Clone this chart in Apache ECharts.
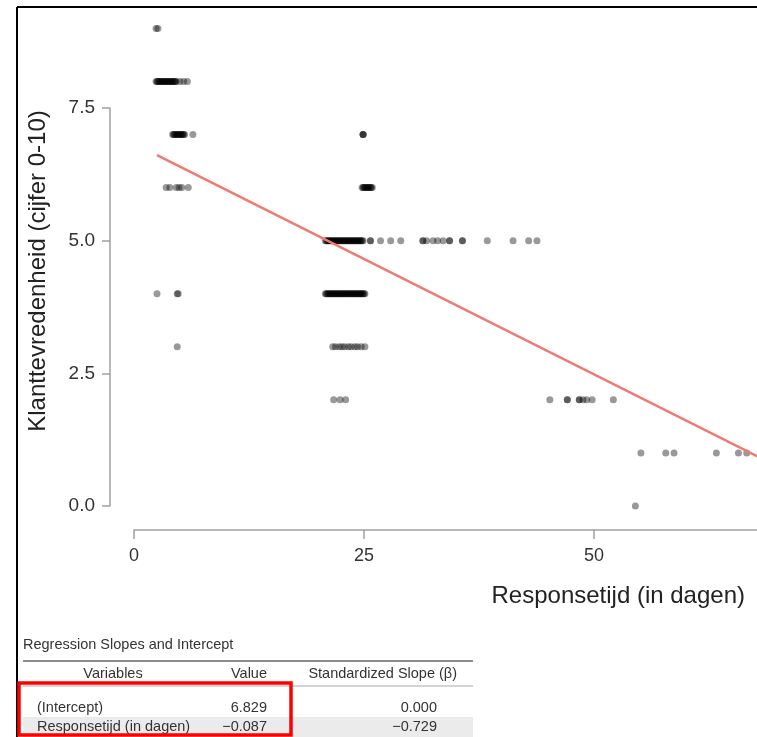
<!DOCTYPE html>
<html><head><meta charset="utf-8">
<script src="https://cdn.jsdelivr.net/npm/echarts@6/dist/echarts.min.js"></script>
<style>html,body{margin:0;padding:0;background:#fff}#c{width:757px;height:737px}</style>
</head><body><div id="c"></div><script>
// Response time (days) of each respondent, grouped by satisfaction score
const score9Days = [2.4, 2.6];
const score8Days = [2.4, 2.5, 2.6, 2.7, 2.8, 2.9, 3.0, 3.1, 3.2, 3.3, 3.4, 3.5, 3.6, 3.7, 3.8, 3.9, 4.0, 4.1, 4.2, 4.3, 4.4, 4.5, 4.6, 5.0, 5.4, 5.8];
const score7Days = [4.2, 4.3, 4.4, 4.5, 4.6, 4.7, 4.8, 4.9, 5.0, 5.1, 5.2, 5.3, 5.4, 5.5, 6.4, 24.9, 24.9, 24.9];
const score6Days = [3.5, 3.9, 4.6, 4.9, 5.2, 5.9, 24.8, 24.9, 25.0, 25.1, 25.2, 25.3, 25.4, 25.5, 25.6, 25.7, 25.8, 25.9];
const score5Days = [20.8, 20.9, 21.0, 21.1, 21.2, 21.3, 21.4, 21.5, 21.6, 21.7, 21.8, 21.9, 22.0, 22.1, 22.2, 22.3, 22.4, 22.5, 22.6, 22.7, 22.8,
  22.9, 23.0, 23.1, 23.2, 23.3, 23.4, 23.5, 23.6, 23.7, 23.8, 23.9, 24.0, 24.1, 24.2, 24.3, 24.4, 24.5, 24.6, 24.7, 24.8, 24.9,
  25.7, 25.7, 26.8, 27.9, 29.0, 31.4, 31.4, 31.8, 32.5, 33.0, 33.6, 34.3, 34.3, 35.7, 35.7, 38.4, 41.2, 42.9, 43.8];
const score4Days = [2.5, 4.7, 4.8, 20.8, 20.9, 21.0, 21.1, 21.2, 21.3, 21.4, 21.5, 21.6, 21.7, 21.8, 21.9, 22.0, 22.1, 22.2, 22.3, 22.4, 22.5,
  22.6, 22.7, 22.8, 22.9, 23.0, 23.1, 23.2, 23.3, 23.4, 23.5, 23.6, 23.7, 23.8, 23.9, 24.0, 24.1, 24.2, 24.3, 24.4, 24.5, 24.6, 24.7,
  24.8, 24.9, 25.0, 25.1];
const score3Days = [4.7, 21.6, 21.9, 22.3, 22.6, 22.9, 23.3, 23.6, 24.0, 24.3, 24.7, 25.1];
const score2Days = [21.7, 22.4, 23.0, 45.2, 47.1, 47.1, 48.4, 48.4, 48.8, 49.2, 49.8, 52.1];
const score1Days = [55.1, 57.8, 58.7, 63.3, 65.7, 66.6];
const score0Days = [54.5];
const scoreLevels = [9, 8, 7, 6, 5, 4, 3, 2, 1, 0];
const daysByLevel = [score9Days, score8Days, score7Days, score6Days, score5Days, score4Days, score3Days, score2Days, score1Days, score0Days];

// Regression line endpoints (x days, predicted score)
const regressionX = [2.5, 70];
const regressionY = [6.61, 0.74];

// Axis ticks
const xTicks = [0, 25, 50];
const yTicks = [0, 2.5, 5, 7.5];

// Table
const tableTitle = 'Regression Slopes and Intercept';
const tableColumns = ['Variables', 'Value', 'Standardized Slope (\u03B2)'];
const tableRowNames = ['(Intercept)', 'Responsetijd (in dagen)'];
const tableValues = ['6.829', '\u22120.087'];
const tableStdSlopes = ['0.000', '\u22120.729'];

const xTitle = 'Responsetijd (in dagen)';
const yTitle = 'Klanttevredenheid (cijfer 0-10)';

const points = [];
scoreLevels.forEach((lvl, i) => daysByLevel[i].forEach(d => points.push([d, lvl])));
const lineData = regressionX.map((x, i) => [x, regressionY[i]]);

const FONT = '"Liberation Sans", Arial, sans-serif';
const chart = echarts.init(document.getElementById('c'), null, {renderer: 'canvas'});

const tblFont = '14.5px ' + FONT;
const graphics = [
  {type: 'line', shape: {x1: 17, y1: 7, x2: 17, y2: 737}, style: {stroke: '#000', lineWidth: 2}},
  {type: 'line', shape: {x1: 17, y1: 7, x2: 757, y2: 7}, style: {stroke: '#000', lineWidth: 2}},
  {type: 'text', x: 38, y: 271, rotation: Math.PI / 2, style: {text: yTitle, font: '24px ' + FONT, fill: '#222', align: 'center', verticalAlign: 'middle'}},
  {type: 'text', x: 745, y: 596, style: {text: xTitle, font: '24px ' + FONT, fill: '#222', align: 'right', verticalAlign: 'middle'}},
  // table
  {type: 'rect', shape: {x: 23, y: 717, width: 450, height: 20}, style: {fill: '#ebebeb'}},
  {type: 'text', x: 23, y: 645, style: {text: tableTitle, font: tblFont, fill: '#333', align: 'left', verticalAlign: 'middle'}},
  {type: 'line', shape: {x1: 23, y1: 661, x2: 473, y2: 661}, style: {stroke: '#666', lineWidth: 1.5}},
  {type: 'line', shape: {x1: 23, y1: 686, x2: 473, y2: 686}, style: {stroke: '#aaa', lineWidth: 1}},
  {type: 'text', x: 113, y: 674, style: {text: tableColumns[0], font: tblFont, fill: '#333', align: 'center', verticalAlign: 'middle'}},
  {type: 'text', x: 267, y: 674, style: {text: tableColumns[1], font: tblFont, fill: '#333', align: 'right', verticalAlign: 'middle'}},
  {type: 'text', x: 457, y: 674, style: {text: tableColumns[2], font: tblFont, fill: '#333', align: 'right', verticalAlign: 'middle'}}
];
tableRowNames.forEach((name, i) => {
  const y = 708 + i * 19;
  graphics.push({type: 'text', x: 37, y: y, style: {text: name, font: tblFont, fill: '#333', align: 'left', verticalAlign: 'middle'}});
  graphics.push({type: 'text', x: 267, y: y, style: {text: tableValues[i], font: tblFont, fill: '#333', align: 'right', verticalAlign: 'middle'}});
  graphics.push({type: 'text', x: 437, y: y, style: {text: tableStdSlopes[i], font: tblFont, fill: '#333', align: 'right', verticalAlign: 'middle'}});
});
graphics.push({type: 'rect', z: 10, shape: {x: 19, y: 683, width: 272, height: 52}, style: {fill: 'none', stroke: '#ff0000', lineWidth: 3.5}});

chart.setOption({
  animation: false,
  backgroundColor: '#fff',
  grid: {left: 134, top: 108, width: 644, height: 398, containLabel: false, outerBoundsMode: 'none'},
  xAxis: {
    type: 'value', min: 0, max: 70, interval: 25, offset: 24,
    splitLine: {show: false},
    axisLine: {show: true, onZero: false, lineStyle: {color: '#a0a0a0', width: 1.5}},
    axisTick: {show: true, length: 9, lineStyle: {color: '#a0a0a0', width: 1.5}},
    axisLabel: {margin: 17, fontSize: 18, color: '#333', fontFamily: FONT,
      formatter: v => xTicks.indexOf(v) >= 0 ? String(v) : ''}
  },
  yAxis: {
    type: 'value', min: 0, max: 7.5, interval: 2.5, offset: 24,
    splitLine: {show: false},
    axisLine: {show: true, onZero: false, lineStyle: {color: '#a0a0a0', width: 1.5}},
    axisTick: {show: true, length: 8, lineStyle: {color: '#a0a0a0', width: 1.5}},
    axisLabel: {margin: 15, fontSize: 19, color: '#333', fontFamily: FONT,
      formatter: v => yTicks.indexOf(v) >= 0 ? v.toFixed(1) : ''}
  },
  series: [
    {type: 'scatter', data: points, symbolSize: 7, clip: false, silent: true, z: 2,
      itemStyle: {color: 'rgba(0,0,0,0.5)'}},
    {type: 'line', data: lineData, symbol: 'none', clip: false, silent: true, z: 3,
      lineStyle: {color: '#ef7a72', width: 2.5}}
  ],
  graphic: graphics
});
</script></body></html>
